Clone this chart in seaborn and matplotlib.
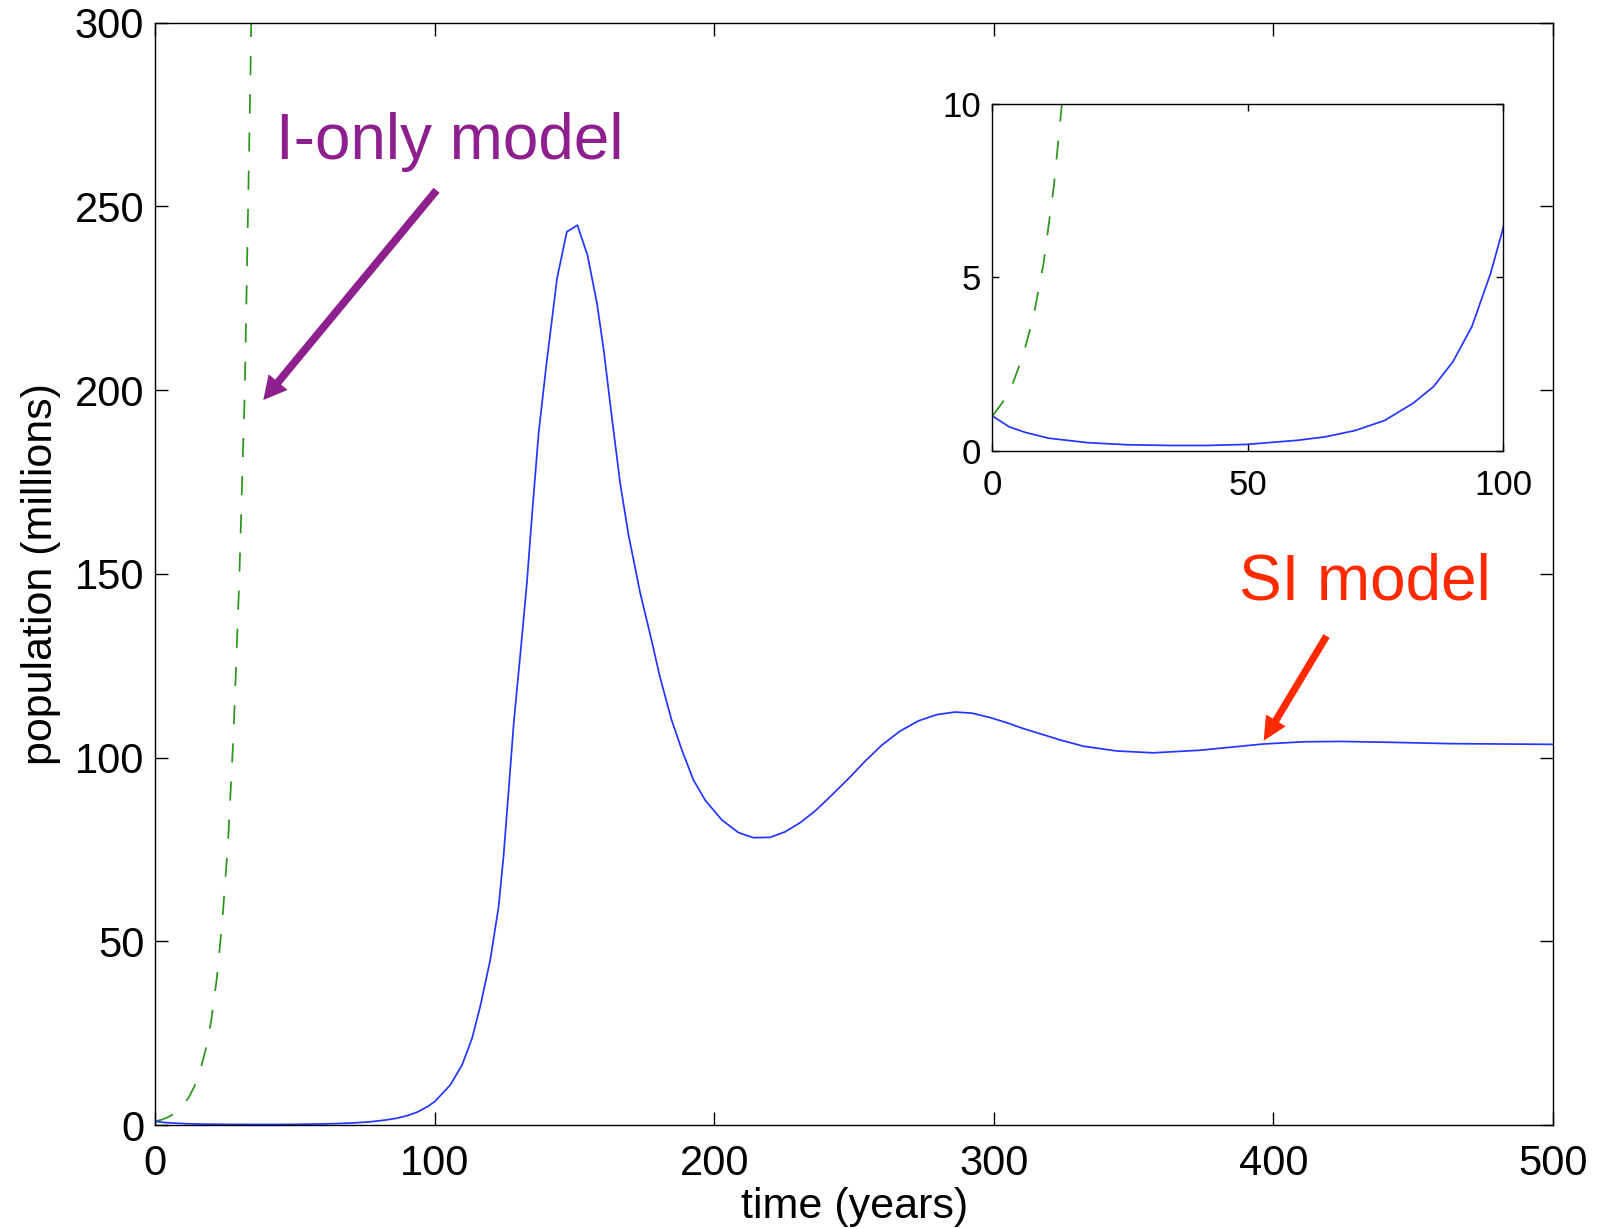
import numpy as np
import pandas as pd
import matplotlib
matplotlib.use("Agg")
import matplotlib.pyplot as plt
import seaborn as sns

# ---------------- data ----------------
si_time = [0, 3.25, 6.35, 11.0, 18.7, 26.5, 35.0, 42.0, 49.7, 59.8, 65.2, 71.0,
           76.8, 82.4, 86.4, 90.2, 93.9, 97.6, 100.0, 105.5, 109.7, 113.3, 116.2,
           119.8, 122.8, 124.6, 126.4, 128.2, 130.8, 132.9, 134.7, 137.1, 139.8,
           143.7, 147.2, 151.0, 154.6, 158.0, 160.4, 163.3, 166.3, 169.3, 173.4,
           177.5, 180.5, 184.7, 188.4, 192.5, 196.7, 202.7, 208.6, 214.0, 220.0,
           225.3, 230.7, 236.1, 242.0, 248.0, 253.9, 259.9, 266.4, 273.0, 279.6,
           286.1, 292.1, 298.6, 304.6, 310.5, 316.5, 323.7, 332.0, 344.0, 357.0,
           373.7, 396.4, 410.7, 423.8, 439.3, 463.2, 500.0]
si_pop = [1.0, 0.69, 0.53, 0.36, 0.23, 0.17, 0.15, 0.15, 0.18, 0.30, 0.40, 0.58,
          0.87, 1.37, 1.85, 2.57, 3.58, 5.13, 6.41, 10.9, 16.3, 23.6, 32.2,
          44.9, 59.4, 73.5, 91.2, 109.3, 130.0, 147.4, 165.5, 188.2, 206.4,
          230.4, 243.1, 244.9, 236.7, 223.6, 210.9, 192.7, 174.6, 160.5, 145.0,
          132.0, 122.0, 110.2, 102.0, 93.9, 88.4, 83.0, 79.6, 78.2, 78.3,
          79.8, 82.3, 85.5, 89.8, 94.3, 99.0, 103.4, 107.2, 110.0, 111.7,
          112.4, 112.1, 110.9, 109.5, 107.9, 106.5, 104.8, 103.1, 101.8, 101.3,
          102.0, 103.7, 104.3, 104.4, 104.2, 103.8, 103.6]

ionly_time = [0, 2, 4, 6, 8, 10, 12, 14, 16, 18, 20, 22, 24, 26, 28, 30, 32, 34, 35]
ionly_pop = [1.0, 1.40, 1.95, 2.75, 3.85, 5.4, 7.6, 10.6, 14.8, 20.5, 28.5, 40.0,
             56.0, 77.0, 107.0, 148.0, 200.0, 285.0, 335.0]

main_xticks = [0, 100, 200, 300, 400, 500]
main_yticks = [0, 50, 100, 150, 200, 250, 300]
inset_xticks = [0, 50, 100]
inset_yticks = [0, 5, 10]

si_df = pd.DataFrame({"time": si_time, "pop": si_pop})
io_df = pd.DataFrame({"time": ionly_time, "pop": ionly_pop})

# ---------------- style ----------------
sns.set_style("ticks")
plt.rcParams["font.family"] = ["Liberation Sans", "DejaVu Sans"]

BLUE = "#2236ff"
GREEN = "#2a951a"
PURPLE = "#8e1f8e"
RED = "#ff2a00"
DASH = (0, (11, 11))
LW = 1.25

fig = plt.figure(figsize=(16, 12.29), dpi=100)
ax = fig.add_axes([0.0971, 0.0846, 0.8735, 0.8969])
ax_in = fig.add_axes([0.6203, 0.6333, 0.3191, 0.2821])


def draw(a):
    sns.lineplot(data=io_df, x="time", y="pop", ax=a, color=GREEN, linewidth=LW,
                 linestyle=DASH, estimator=None, sort=False)
    sns.lineplot(data=si_df, x="time", y="pop", ax=a, color=BLUE, linewidth=LW,
                 estimator=None, sort=False)


draw(ax)
draw(ax_in)

# main axes
ax.set_xlim(0, 500)
ax.set_ylim(0, 300)
ax.set_xticks(main_xticks)
ax.set_yticks(main_yticks)
ax.set_xticklabels([str(v) for v in main_xticks])
ax.set_yticklabels([str(v) for v in main_yticks])
ax.tick_params(direction="in", top=True, right=True, length=9.5, width=1.0,
               labelsize=30, colors="black")
ax.tick_params(axis="x", pad=14)
ax.tick_params(axis="y", pad=8)
for s in ax.spines.values():
    s.set_visible(True)
    s.set_linewidth(1.0)
    s.set_color("black")
ax.set_xlabel("time (years)", fontsize=31, labelpad=2, color="black")
ax.set_ylabel("population (millions)", fontsize=31, labelpad=10, color="black")

# inset
ax_in.set_xlim(0, 100)
ax_in.set_ylim(0, 10)
ax_in.set_xticks(inset_xticks)
ax_in.set_yticks(inset_yticks)
ax_in.set_xticklabels([str(v) for v in inset_xticks])
ax_in.set_yticklabels([str(v) for v in inset_yticks])
ax_in.tick_params(direction="in", top=True, right=True, length=5, width=1.0,
                  labelsize=25, colors="black")
ax_in.tick_params(axis="x", pad=13)
ax_in.tick_params(axis="y", pad=8)
ax_in.set_xlabel("")
ax_in.set_ylabel("")
ax_in.set_facecolor("white")
for s in ax_in.spines.values():
    s.set_visible(True)
    s.set_linewidth(1.0)
    s.set_color("black")

# annotations
ax.text(43.2, 263.0, "I-only model", fontsize=46, color=PURPLE,
        ha="left", va="baseline")
ax.annotate("", xy=(38.6, 197.3), xytext=(100.6, 254.4),
            arrowprops=dict(arrowstyle="simple,head_length=16.8,head_width=17.7,tail_width=5.6",
                            mutation_scale=1, color=PURPLE, lw=0,
                            shrinkA=0, shrinkB=0))
ax.text(387.8, 143.1, "SI model", fontsize=46, color=RED,
        ha="left", va="baseline")
ax.annotate("", xy=(396.5, 104.6), xytext=(419.0, 133.1),
            arrowprops=dict(arrowstyle="simple,head_length=17,head_width=16.5,tail_width=5.2",
                            mutation_scale=1, color=RED, lw=0,
                            shrinkA=0, shrinkB=0))

fig.savefig("out.png", dpi=100, facecolor="white")
